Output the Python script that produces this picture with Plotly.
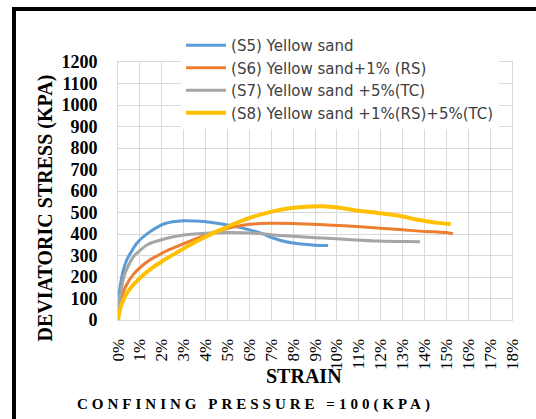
import plotly.graph_objects as go

# Strain (%) and deviatoric stress (kPa) for each sample
s5_strain = [0, 0.03, 0.17, 0.4, 0.86, 1.47, 2.15, 3.0, 3.6, 4.2, 5.0, 5.5, 6.05, 6.5, 7.0, 7.43, 8.0, 8.35, 9.0, 9.6]
s5_stress = [0, 90, 200, 279, 357, 411, 449, 462, 460, 455, 442, 432, 418, 405, 385, 370, 358, 353, 348, 346]

s6_strain = [0, 0.03, 0.09, 0.32, 0.7, 1.16, 1.47, 1.93, 2.31, 3.0, 3.6, 4.22, 4.98, 5.5, 6.05, 6.5, 7.0, 8.04,
             9.57, 11.1, 12.0, 13.0, 14.0, 14.5, 15.0, 15.3]
s6_stress = [0, 40, 78, 150, 212, 257, 280, 306, 326, 355, 380, 403, 425, 437, 445, 449, 450, 449,
             442, 434, 427, 420, 412, 410, 407, 401]

s7_strain = [0, 0.03, 0.09, 0.32, 0.7, 1.32, 2.23, 3.0, 4.22, 5.0, 5.75, 6.5, 7.0, 7.43, 8.5, 9.57, 10.7, 11.86, 13.0, 13.8]
s7_stress = [0, 60, 108, 217, 294, 349, 380, 395, 405, 407, 406, 402, 397, 393, 386, 380, 373, 367, 365, 364]

s8_strain = [0, 0.05, 0.17, 0.47, 1.0, 1.5, 2.0, 2.5, 3.0, 3.6, 4.22, 4.98, 5.5, 6.05, 6.5, 6.97, 7.5, 8.04, 8.6,
             9.26, 9.8, 10.3, 11.0, 11.86, 12.9, 13.7, 14.5, 15.2]
s8_stress = [0, 30, 75, 135, 195, 238, 272, 303, 333, 366, 398, 432, 455, 476, 490, 503, 514, 522, 527,
             529, 526, 520, 508, 498, 484, 466, 453, 446]

series_names = [
    "(S5) Yellow sand",
    "(S6) Yellow sand+1% (RS)",
    "(S7) Yellow sand +5%(TC)",
    "(S8) Yellow sand +1%(RS)+5%(TC)",
]
series_colors = ["#5B9BD5", "#ED7D31", "#A5A5A5", "#FFC000"]
series_widths = [3, 3, 3, 4]

x_ticks = list(range(0, 19))
x_tick_text = [f"{v}%" for v in x_ticks]
y_ticks = list(range(0, 1300, 100))

strains = [s5_strain, s6_strain, s7_strain, s8_strain]
stresses = [s5_stress, s6_stress, s7_stress, s8_stress]

fig = go.Figure()
for name, col, w, xs, ys in zip(series_names, series_colors, series_widths, strains, stresses):
    fig.add_trace(go.Scatter(
        x=xs, y=ys, name=name, mode="lines",
        line=dict(color=col, width=w, shape="spline", smoothing=0.6),
    ))

serif = "Liberation Serif"
grid = "#d9d9d9"

fig.update_layout(
    width=536, height=419,
    margin=dict(l=118, r=24, t=62, b=99),
    paper_bgcolor="white", plot_bgcolor="white",
    showlegend=True,
    legend=dict(
        x=0.16, y=1.128, xanchor="left", yanchor="top",
        bgcolor="white", borderwidth=0,
        font=dict(family="DejaVu Sans", size=15, color="#404040"),
        tracegroupgap=0, itemwidth=40,
    ),
    xaxis=dict(
        range=[0, 18], tickvals=x_ticks, ticktext=x_tick_text, tickangle=-90,
        showgrid=True, gridcolor=grid, gridwidth=1, zeroline=False,
        showline=True, linecolor=grid, linewidth=1, mirror=True,
        ticks="", ticklabelstandoff=11,
        tickfont=dict(family=serif, size=17, color="black"),
    ),
    yaxis=dict(
        range=[0, 1200], tickvals=y_ticks,
        showgrid=True, gridcolor=grid, gridwidth=1, zeroline=False,
        showline=True, linecolor=grid, linewidth=1, mirror=True,
        ticks="", ticklabelstandoff=16,
        tickfont=dict(family=serif, size=18, color="black", weight="bold"),
    ),
    annotations=[
        dict(text="<b>DEVIATORIC STRESS (KPA)</b>", textangle=-90,
             xref="paper", yref="paper", x=-0.183, y=0.436,
             xanchor="center", yanchor="middle", showarrow=False,
             font=dict(family=serif, size=20, color="black")),
        dict(text="<b>STRAIN</b>",
             xref="paper", yref="paper", x=0.472, y=-0.217,
             xanchor="center", yanchor="middle", showarrow=False,
             font=dict(family=serif, size=20, color="black")),
        dict(text='<b><span style="letter-spacing:4px">CONFINING PRESSURE =100(KPA)</span></b>',
             xref="paper", yref="paper", x=0.350, y=-0.329,
             xanchor="center", yanchor="middle", showarrow=False,
             font=dict(family=serif, size=15, color="black")),
    ],
    shapes=[
        dict(type="rect", xref="paper", yref="paper",
             x0=-0.264, x1=1.2, y0=-0.6, y1=1.205,
             line=dict(color="black", width=4), layer="above"),
    ],
)

fig.write_html("out.html")
